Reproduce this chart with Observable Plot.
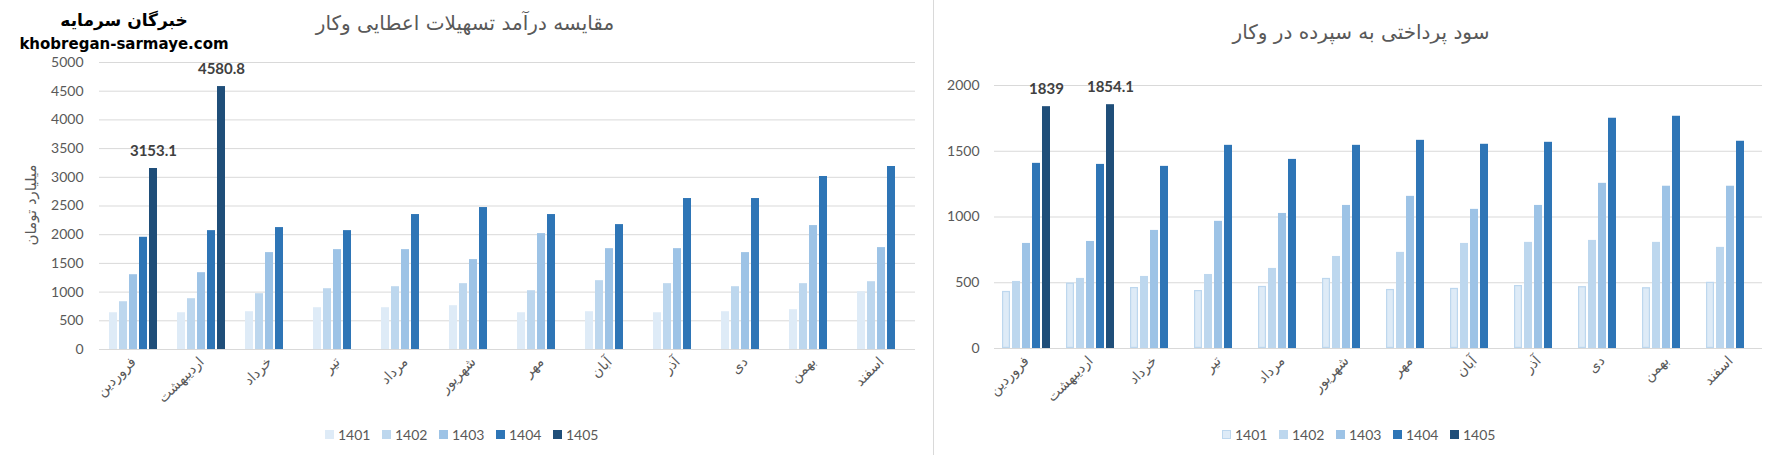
<!DOCTYPE html>
<html>
<head>
<meta charset="utf-8">
<script src="https://cdn.jsdelivr.net/npm/d3@7"></script>
<script src="https://cdn.jsdelivr.net/npm/@observablehq/plot@0.6"></script>
<style>
  body { margin: 0; width: 1771px; height: 455px; position: relative; background: #fff; overflow: hidden; font-family: Lato, "DejaVu Sans", sans-serif; }
  .abs { position: absolute; }
  .center { transform: translate(-50%, -50%); white-space: nowrap; }
  .title { font-family: "DejaVu Sans", sans-serif; font-size: 20px; color: #595959; direction: rtl; }
  .legend { display: flex; font-size: 14px; color: #595959; }
  .legend span.item { width: 57px; display: flex; align-items: center; }
  .legend span.sw { width: 9px; height: 9px; margin-right: 4px; box-sizing: border-box; }
</style>
</head>
<body>
<div id="left" class="abs" style="left:0;top:0"></div>
<div id="right" class="abs" style="left:940px;top:0"></div>
<div class="abs" style="left:933px;top:0;width:1px;height:455px;background:#d9d9d9"></div>

<div class="abs center" style="left:124px;top:20px;font-family:'DejaVu Sans';font-weight:bold;font-size:17px;color:#000;direction:rtl">خبرگان سرمایه</div>
<div class="abs center" style="left:124px;top:44px;font-family:'DejaVu Sans';font-weight:bold;font-size:15px;color:#000">khobregan-sarmaye.com</div>
<div class="abs center title" style="left:465px;top:23px">مقایسه درآمد تسهیلات اعطایی وکار</div>
<div class="abs center title" style="left:1361px;top:32px">سود پرداختی به سپرده در وکار</div>
<div class="abs center" style="left:31px;top:205px;transform:translate(-50%,-50%) rotate(-90deg);font-family:'DejaVu Sans';font-size:15px;color:#595959;direction:rtl">میلیارد تومان</div>

<div id="legendLeft" class="abs legend" style="left:325px;top:426px"></div>
<div id="legendRight" class="abs legend" style="left:1222px;top:426px"></div>

<script>
const months = ["فروردین", "اردیبهشت", "خرداد", "تیر", "مرداد", "شهریور", "مهر", "آبان", "آذر", "دی", "بهمن", "اسفند"]
const years = ["1401", "1402", "1403", "1404", "1405"]
const colors = ["#deebf7", "#bdd7ee", "#9dc3e6", "#2e75b6", "#1f4e79"]

// مقایسه درآمد تسهیلات اعطایی وکار
const income1401 = [640, 640, 658, 728, 728, 763, 640, 658, 640, 658, 693, 1007]
const income1402 = [832, 885, 972, 1059, 1094, 1147, 1024, 1199, 1147, 1094, 1147, 1181]
const income1403 = [1303, 1338, 1688, 1740, 1740, 1566, 2019, 1757, 1757, 1688, 2159, 1775]
const income1404 = [1955, 2071, 2124, 2071, 2351, 2473, 2351, 2176, 2630, 2630, 3014, 3188]
const income1405 = [3153.1, 4580.8]
const incomeTicks = [0, 500, 1000, 1500, 2000, 2500, 3000, 3500, 4000, 4500, 5000]

// سود پرداختی به سپرده در وکار
const profit1401 = [434, 497, 464, 441, 472, 533, 449, 457, 479, 470, 462, 503]
const profit1402 = [510, 533, 548, 563, 609, 700, 731, 799, 807, 822, 807, 769]
const profit1403 = [799, 814, 898, 967, 1027, 1088, 1157, 1058, 1088, 1256, 1234, 1234]
const profit1404 = [1408, 1400, 1385, 1545, 1438, 1545, 1583, 1553, 1568, 1751, 1766, 1576]
const profit1405 = [1839, 1854.1]
const profitTicks = [0, 500, 1000, 1500, 2000]

// از آرایه‌ها یک جدول بلند می‌سازیم (ماه، سال، مقدار)
function toRows(series) {
  return series.flatMap((vals, i) => vals.map((v, j) => ({month: months[j], year: years[i], value: v})))
}
const incomeRows = toRows([income1401, income1402, income1403, income1404, income1405])
const profitRows = toRows([profit1401, profit1402, profit1403, profit1404, profit1405])

function chart(rows, opts) {
  return Plot.plot({
    width: opts.width,
    height: 455,
    marginLeft: opts.marginLeft,
    marginRight: opts.marginRight,
    marginTop: opts.marginTop,
    marginBottom: opts.marginBottom,
    style: {fontFamily: "Lato, 'DejaVu Sans', sans-serif", fontSize: "14px", color: "#595959", background: "transparent", overflow: "visible"},
    fx: {domain: months, padding: 0, label: null},
    x: {domain: years, axis: null, paddingInner: 0.2, paddingOuter: opts.paddingOuter},
    y: {domain: opts.domain, label: null},
    color: {domain: years, range: colors},
    marks: [
      Plot.gridY(opts.ticks, {stroke: "#d9d9d9", strokeOpacity: 1}),
      Plot.ruleY([0], {stroke: "#d9d9d9"}),
      Plot.axisY({ticks: opts.ticks, tickSize: 0, tickPadding: opts.tickPadding, tickFormat: "d", label: null, fontSize: 14}),
      Plot.axisFx({anchor: "bottom", tickRotate: -45, tickSize: 0, tickPadding: 10, label: null, fontSize: 14, fontFamily: "DejaVu Sans"}),
      Plot.barY(rows, {fx: "month", x: "year", y: "value", fill: "year"}),
      // در نمودار دوم ستون‌های ۱۴۰۱ حاشیه دارند
      opts.outlined ? Plot.barY(rows.filter(d => d.year === "1401"), {
        fx: "month", x: "year", y: "value", fill: "none", stroke: "#bdd7ee", strokeWidth: 1.2, inset: 0.6
      }) : null,
      Plot.text(rows.filter(d => d.year === "1405"), {
        fx: "month", x: "year", y: "value", text: d => String(d.value),
        dy: -17, fontWeight: "bold", fontSize: 15, fill: "#404040"
      })
    ]
  })
}

const leftChart = chart(incomeRows, {width: 930, marginLeft: 96, marginRight: 12, marginTop: 62, marginBottom: 106,
  domain: [0, 5000], ticks: incomeTicks, paddingOuter: 0.86, tickPadding: 16})
const rightChart = chart(profitRows, {width: 831, marginLeft: 53, marginRight: 9, marginTop: 85, marginBottom: 107,
  domain: [0, 2000], ticks: profitTicks, paddingOuter: 0.8, tickPadding: 15, outlined: true})

d3.select('#left').append(() => leftChart)
d3.select('#right').append(() => rightChart)

// راهنما
function legend(sel, outlined) {
  const items = d3.select(sel).selectAll('span.item').data(years).join('span').attr('class', 'item')
  items.append('span').attr('class', 'sw')
    .style('background', (d, i) => colors[i])
    .style('border', (d, i) => outlined && i === 0 ? '1px solid #bdd7ee' : 'none')
  items.append('span').text(d => d)
}
legend('#legendLeft', false)
legend('#legendRight', true)
</script>
</body>
</html>
